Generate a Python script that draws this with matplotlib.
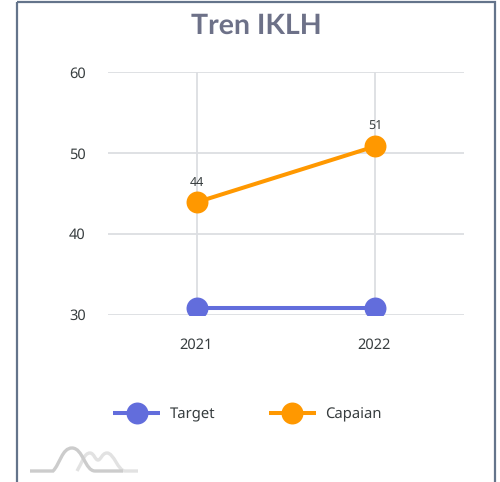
import matplotlib
matplotlib.use("Agg")
from matplotlib import pyplot as plt
from matplotlib.lines import Line2D
from matplotlib.path import Path
from matplotlib.patches import PathPatch, Rectangle
from matplotlib.transforms import ScaledTranslation

years = ["2021", "2022"]
target = [30.8, 30.8]
capaian = [43.9, 50.8]
capaian_labels = ["44", "51"]
yticks = [30, 40, 50, 60]

W, H = 500, 482
BLUE = "#626ddc"
ORANGE = "#ff9800"
GRID = "#dcdee2"
TEXT = "#373d3f"
FONT = ["Noto Sans", "DejaVu Sans"]

plt.rcParams["font.family"] = FONT
plt.rcParams["text.hinting"] = "no_hinting"
fig = plt.figure(figsize=(W / 100, H / 100), dpi=100, facecolor="white")

# background layer in pixel coords: card border and the little logo
bg = fig.add_axes([0, 0, 1, 1])
bg.set_xlim(0, W)
bg.set_ylim(H, 0)
bg.axis("off")
bg.add_patch(Rectangle((17, 1.5), 477.5, H + 10, fill=False, ec="#64748b", lw=1.6))

L, C = Path.LINETO, Path.CURVE4
logo_light = [(77, 471, Path.MOVETO), (82, 463, C), (84, 453, C), (90, 453, C),
              (94, 453, C), (95, 460, C), (98, 460, C),
              (101, 460, C), (102, 453, C), (107, 453, C),
              (114, 453, C), (118, 471, C), (125, 471, C), (138, 471, L)]
logo_dark = [(30, 471, Path.MOVETO), (53, 471, L), (60, 464, C), (62, 448, C), (72, 448, C),
             (83, 448, C), (85, 471, C), (95, 471, C), (123, 471, L)]
for pts, col in ((logo_light, "#e2e2e2"), (logo_dark, "#cccccc")):
    verts = [p[:2] for p in pts]
    codes = [p[2] for p in pts]
    bg.add_patch(PathPatch(Path(verts, codes), fill=False, ec=col, lw=2.4, capstyle="butt"))

# chart
ax = fig.add_axes([108 / W, 1 - 314.5 / H, 356 / W, 242.5 / H])
ax.patch.set_alpha(0)
ax.set_xlim(-0.5, 1.5)
ax.set_ylim(30, 60)
ax.set_xticks(range(len(years)))
ax.set_xticklabels(years)
ax.set_yticks(yticks)
ax.tick_params(length=0, labelsize=10.5, labelcolor=TEXT)
ax.tick_params(axis="y", pad=16)
ax.tick_params(axis="x", pad=16.5)
ax.grid(True, color=GRID, lw=1.3)
ax.set_axisbelow(True)
for s in ax.spines.values():
    s.set_visible(False)
# year labels sit a bit left of the marker in the original
shift = ScaledTranslation(-1.5 / 100, 0, fig.dpi_scale_trans)
for t in ax.get_xticklabels():
    t.set_transform(t.get_transform() + shift)

ax.plot(range(2), target, color=BLUE, lw=2.9, marker="o", ms=15.8, mew=0, label="Target")
ax.plot(range(2), capaian, color=ORANGE, lw=2.9, marker="o", ms=15.8, mew=0, label="Capaian")

for i, lab in enumerate(capaian_labels):
    ax.annotate(lab, (i, capaian[i]), xytext=(0, 14), textcoords="offset points",
                ha="center", va="center", fontsize=9, color=TEXT)

fig.text(256 / W, 1 - 26 / H, "Tren IKLH", ha="center", va="center", fontsize=20.5,
         fontweight="bold", family="Lato", color="#6d7188")

handles = [Line2D([], [], color=BLUE, lw=2.9, marker="o", ms=15.8, mew=0, solid_capstyle="butt"),
           Line2D([], [], color=ORANGE, lw=2.9, marker="o", ms=15.8, mew=0, solid_capstyle="butt")]
fig.legend(handles, ["Target", "Capaian"], ncol=2, loc="center", frameon=False,
           bbox_to_anchor=(247.5 / W, 1 - 414.5 / H), fontsize=10.7, labelcolor=TEXT,
           handlelength=3.15, handletextpad=0.65, columnspacing=3.6)

fig.savefig("out.png", dpi=100, facecolor="white")
